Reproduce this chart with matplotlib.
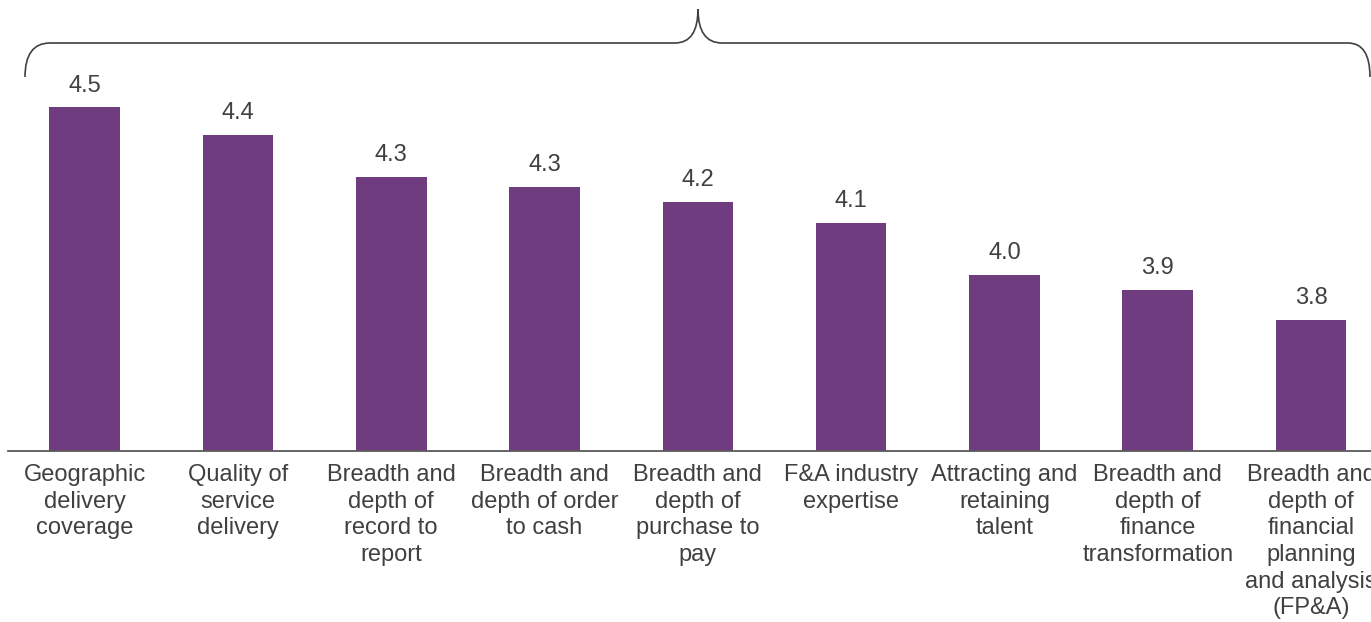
import matplotlib.pyplot as plt
from matplotlib.path import Path
from matplotlib.patches import PathPatch

plt.rcParams['font.family'] = ['Liberation Sans', 'DejaVu Sans']

categories = [
    "Geographic\ndelivery\ncoverage",
    "Quality of\nservice\ndelivery",
    "Breadth and\ndepth of\nrecord to\nreport",
    "Breadth and\ndepth of order\nto cash",
    "Breadth and\ndepth of\npurchase to\npay",
    "F&A industry\nexpertise",
    "Attracting and\nretaining\ntalent",
    "Breadth and\ndepth of\nfinance\ntransformation",
    "Breadth and\ndepth of\nfinancial\nplanning\nand analysis\n(FP&A)",
]
scores = [4.50, 4.41, 4.27, 4.24, 4.19, 4.12, 3.95, 3.90, 3.80]
score_labels = ["4.5", "4.4", "4.3", "4.3", "4.2", "4.1", "4.0", "3.9", "3.8"]

W, H = 1371, 622
BAR = '#6f3c80'
TXT = '#404040'

fig = plt.figure(figsize=(W / 100, H / 100), dpi=100)
# axes runs slightly past the right edge, as in the original slide
ax = fig.add_axes([8 / W, 1 - 451 / H, 153.3 * 9 / W, 411 / H])

x = range(len(scores))
bars = ax.bar(x, scores, width=0.46, color=BAR, bottom=0)
ax.set_ylim(3.37, 3.37 + 411 / 304)
ax.set_xlim(-0.5, len(scores) - 0.5)

for b, lab in zip(bars, score_labels):
    ax.annotate(lab, (b.get_x() + b.get_width() / 2, b.get_height()),
                xytext=(0, 11.5), textcoords='offset points',
                ha='center', va='baseline', fontsize=17, color=TXT)

ax.set_xticks(list(x))
ax.set_xticklabels(categories, fontsize=17, color=TXT, linespacing=1.27)
ax.tick_params(axis='x', length=0, pad=9.5)
ax.set_yticks([])
for s in ['top', 'left', 'right']:
    ax.spines[s].set_visible(False)
ax.spines['bottom'].set_color('#595959')
ax.spines['bottom'].set_linewidth(1.3)


# curly brace over all bars, given in pixel positions from the top-left
def px(pt):
    return (pt[0] / W, 1 - pt[1] / H)


verts = [(25, 77), (25, 43), (50, 43),
         (675, 43),
         (698, 43), (698, 9),
         (698, 43), (722, 43),
         (1348, 43),
         (1370, 43), (1370, 77)]
codes = [Path.MOVETO, Path.CURVE3, Path.CURVE3,
         Path.LINETO,
         Path.CURVE3, Path.CURVE3,
         Path.CURVE3, Path.CURVE3,
         Path.LINETO,
         Path.CURVE3, Path.CURVE3]
brace = PathPatch(Path([px(v) for v in verts], codes), transform=fig.transFigure,
                  fill=False, edgecolor=TXT, linewidth=1.2)
fig.patches.append(brace)

fig.savefig('out.png', dpi=100)
